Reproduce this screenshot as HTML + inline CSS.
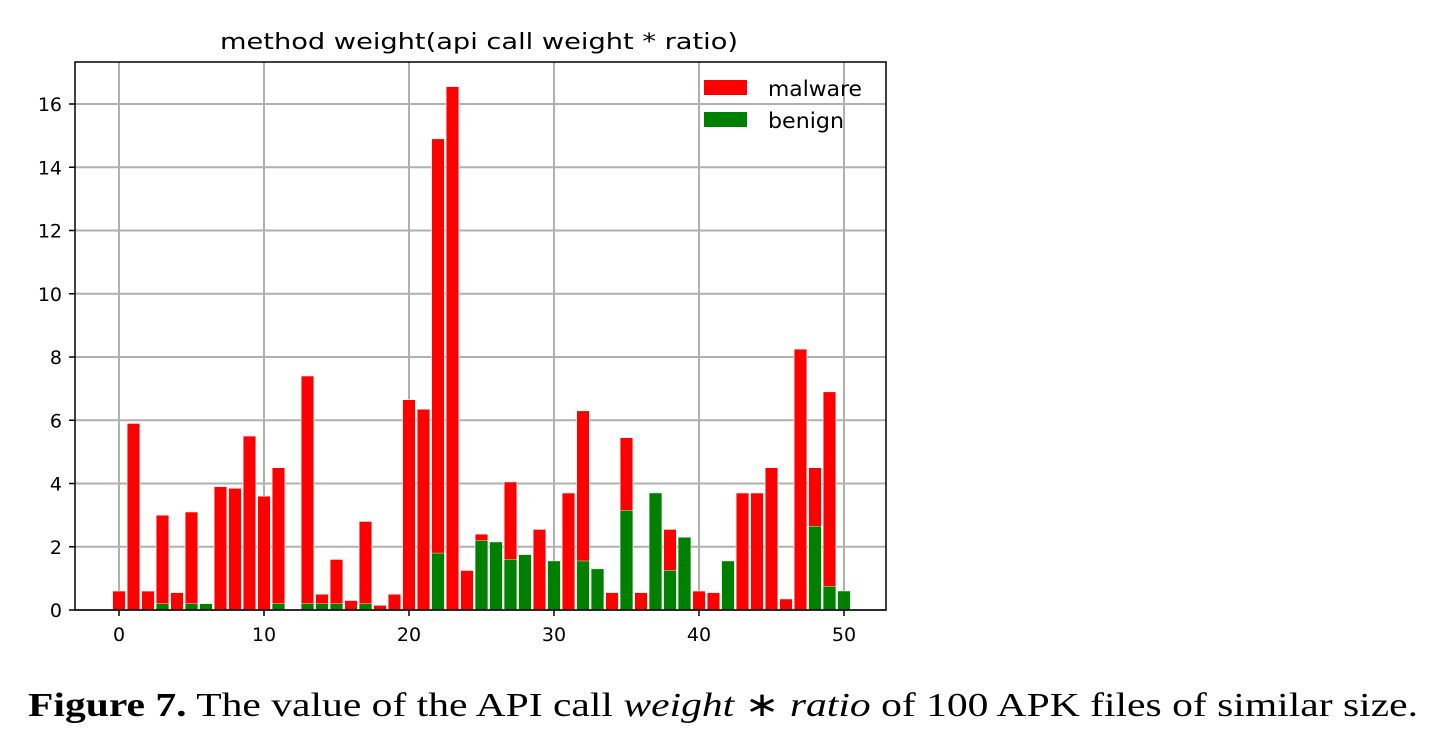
<!DOCTYPE html>
<html><head><meta charset="utf-8"><style>
body{margin:0;background:#fff;width:1435px;height:733px;overflow:hidden}
svg text{font-family:"DejaVu Sans","Liberation Sans",sans-serif}
</style></head><body>
<svg width="1435" height="733">
<text x="220" y="49" font-size="22" textLength="518" lengthAdjust="spacingAndGlyphs">method weight(api call weight * ratio)</text>
<g id="grid"></g><g id="bars"></g><g id="axes"></g>
<g>
<rect x="704" y="80" width="43" height="15" fill="#ff0000"/>
<text x="768" y="96" font-size="21" textLength="94" lengthAdjust="spacingAndGlyphs">malware</text>
<rect x="704" y="112" width="43" height="15" fill="#008000"/>
<text x="768" y="128" font-size="21" textLength="76" lengthAdjust="spacingAndGlyphs">benign</text>
</g>
<text x="28" y="716" font-size="34" textLength="1390" lengthAdjust="spacingAndGlyphs" style="font-family:'Liberation Serif',serif"><tspan font-weight="bold">Figure 7.</tspan> The value of the API call <tspan font-style="italic">weight</tspan> ∗ <tspan font-style="italic">ratio</tspan> of 100 APK files of similar size.</text>
</svg>
<script>
const malware=[0.6,5.9,0.6,3.0,0.55,3.1,0,3.9,3.85,5.5,3.6,4.5,0,7.4,0.5,1.6,0.3,2.8,0.15,0.5,6.65,6.35,14.9,16.55,1.25,2.4,0,4.05,0.35,2.55,0,3.7,6.3,0.35,0.55,5.45,0.55,0.55,2.55,0,0.6,0.55,0,3.7,3.7,4.5,0.35,8.25,4.5,6.9];
const benign=[0,0,0,0.2,0,0.2,0.2,0,0,0,0,0.2,0,0.2,0.2,0.2,0,0.2,0,0,0,0,1.8,0,0,2.2,2.15,1.6,1.75,0,1.55,0,1.55,1.3,0,3.15,0,3.7,1.25,2.3,0,0,1.55,0,0,0,0,0,2.65,0.75,0.6];
const xTicks=[0,10,20,30,40,50];
const yTicks=[0,2,4,6,8,10,12,14,16];
const L=75,R=886,T=62,B=610;
const sx=v=>119+v*14.5, sy=v=>610-v*31.625;
const NS='http://www.w3.org/2000/svg';
function mk(p,t,a){const e=document.createElementNS(NS,t);for(const k in a)e.setAttribute(k,a[k]);document.getElementById(p).appendChild(e);return e;}
xTicks.forEach(t=>{
 const g=mk('grid','line',{x1:sx(t),x2:sx(t),y1:T,y2:B,stroke:'#b0b0b0','stroke-width':2});
 
 
 const tk=mk('axes','line',{x1:sx(t),x2:sx(t),y1:B,y2:B+6,stroke:'#000','stroke-width':1.5});
 
 
 const tx=mk('axes','text',{x:sx(t),y:B+31,'font-size':19,'text-anchor':'middle'});tx.textContent=t;
 
 
});
yTicks.forEach(t=>{
 const g=mk('grid','line',{x1:L,x2:R,y1:sy(t),y2:sy(t),stroke:'#b0b0b0','stroke-width':2});
 
 
 const tk=mk('axes','line',{x1:L-6,x2:L,y1:sy(t),y2:sy(t),stroke:'#000','stroke-width':1.5});
 
 
 const tx=mk('axes','text',{x:L-13,y:sy(t)+7,'font-size':19,'text-anchor':'end'});tx.textContent=t;
 
 
});
const w=0.88*14.5;
malware.forEach((v,i)=>{if(!v)return;
 const r=mk('bars','rect',{x:sx(i)-w/2,y:sy(v),width:w,height:sy(0)-sy(v),fill:'#ff0000',stroke:'#fff','stroke-width':0.6});
 
 
});
benign.forEach((v,i)=>{if(!v)return;
 const r=mk('bars','rect',{x:sx(i)-w/2,y:sy(v),width:w,height:sy(0)-sy(v),fill:'#008000',stroke:'#fff','stroke-width':0.4});
 
 
});
const f=mk('axes','rect',{x:L,y:T,width:R-L,height:B-T,fill:'none',stroke:'#000','stroke-width':1.5});


</script>
</body></html>
